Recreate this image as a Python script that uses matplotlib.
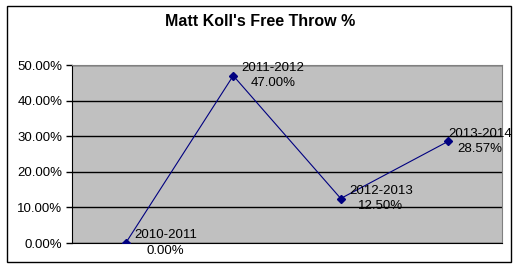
import matplotlib.pyplot as plt
from matplotlib.patches import Rectangle

seasons = ['2010-2011', '2011-2012', '2012-2013', '2013-2014']
ft_pct = [0.0, 47.0, 12.5, 28.57]
y_ticks = [0, 10, 20, 30, 40, 50]

plt.rcParams['font.family'] = ['Liberation Sans', 'DejaVu Sans']

fig = plt.figure(figsize=(5.17, 2.70), dpi=100)
fig.patch.set_facecolor('white')
fig.patches.append(Rectangle((7 / 517, 1 - 262 / 270), 504 / 517, 256 / 270,
                             transform=fig.transFigure, fill=False,
                             edgecolor='black', linewidth=1))

ax = fig.add_axes([72 / 517, 27 / 270, 430 / 517, 178 / 270])
ax.set_facecolor('#c0c0c0')

x = list(range(len(seasons)))
ax.plot(x, ft_pct, color='#000080', linewidth=0.8, marker='D', markersize=4.5,
        markerfacecolor='#000080', markeredgecolor='#000080', zorder=3)

for xi, season, val in zip(x, seasons, ft_pct):
    # excel pushes the last label back inside the chart area
    dx = 6 if xi < len(seasons) - 1 else 0
    ax.annotate('{}\n{:.2f}%'.format(season, val), (xi, val),
                xytext=(dx, 0), textcoords='offset points',
                ha='left', va='center', multialignment='center',
                fontsize=9.5, linespacing=1.35, zorder=4,
                annotation_clip=False)

ax.set_xlim(-0.5, len(seasons) - 0.5)
ax.set_ylim(0, 50)
ax.set_yticks(y_ticks)
ax.set_yticklabels(['{:.2f}%'.format(v) for v in y_ticks], fontsize=9.5)
ax.set_xticks([])
ax.yaxis.grid(True, color='black', linewidth=1)
ax.set_axisbelow(True)
ax.tick_params(axis='y', direction='out', length=4, width=1, color='black', pad=3)

ax.spines['left'].set_color('black')
ax.spines['bottom'].set_color('black')
ax.spines['top'].set_color('#808080')
ax.spines['right'].set_color('#808080')

fig.text(260 / 517, 1 - 22 / 270, "Matt Koll's Free Throw %", ha='center',
         va='center', fontsize=11.5, fontweight='bold')

fig.savefig('out.png', dpi=100)
